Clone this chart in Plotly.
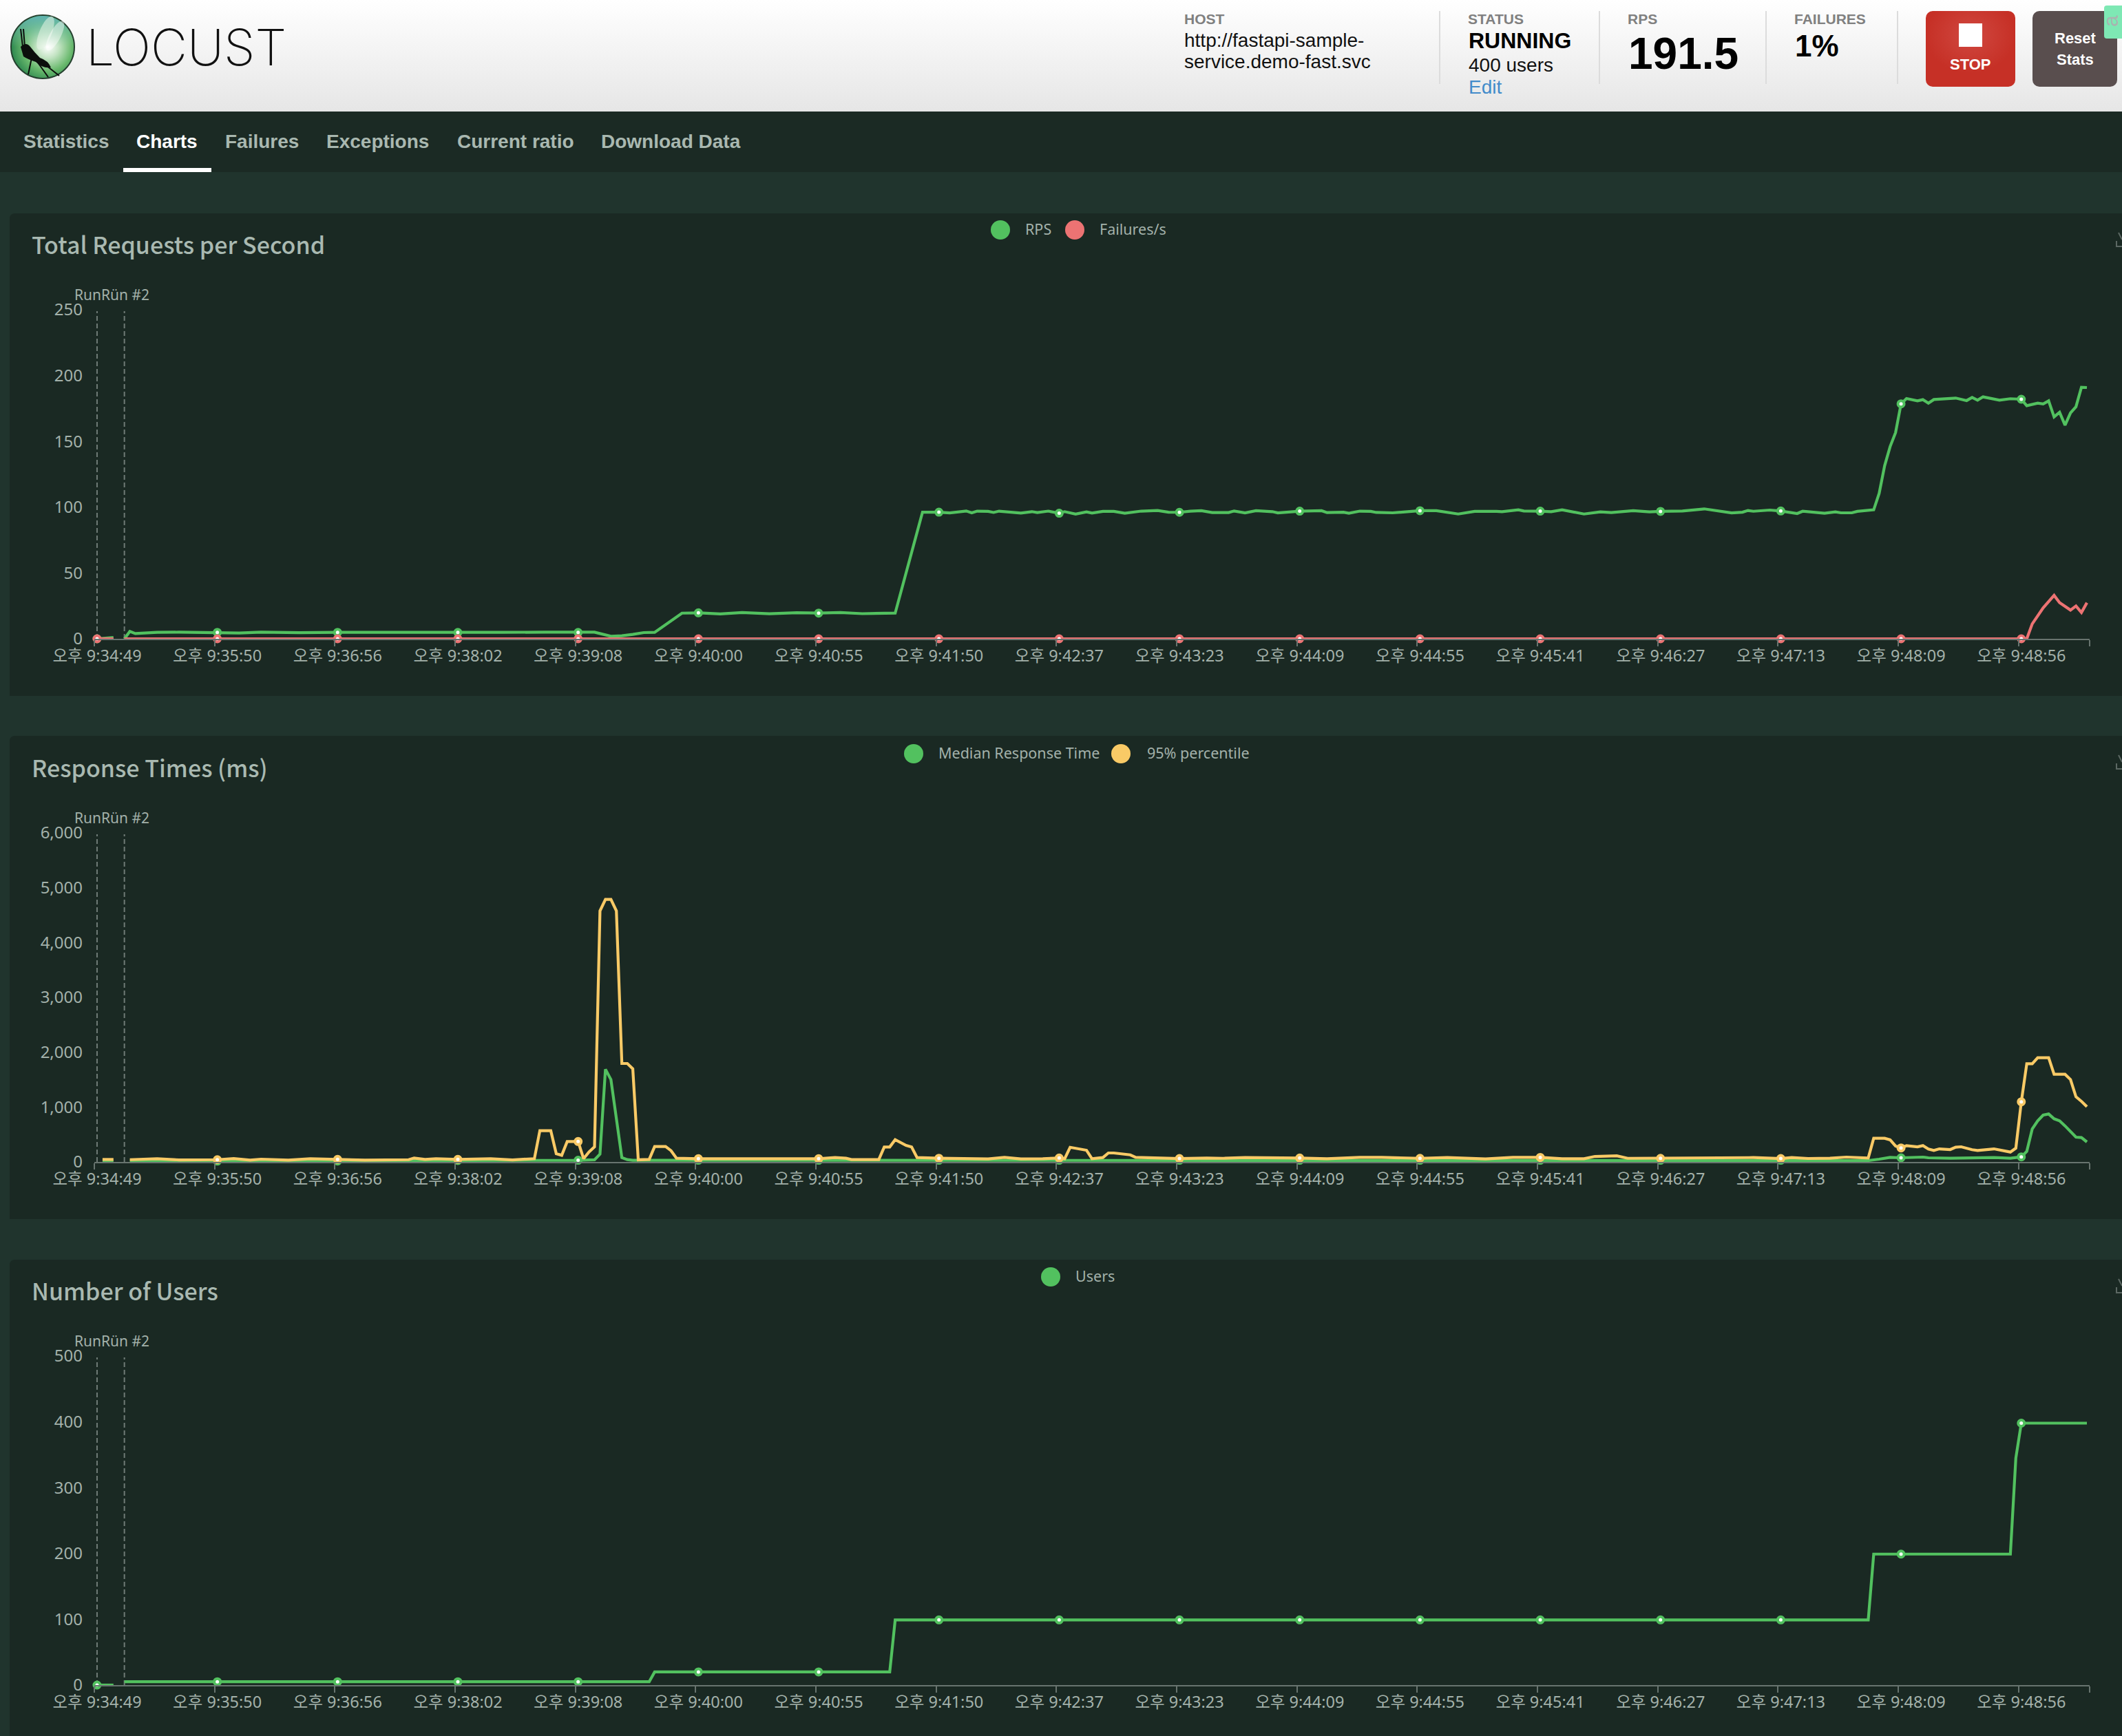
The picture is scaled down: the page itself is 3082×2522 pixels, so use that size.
import base64
import plotly.graph_objects as go

W, H = 3082, 2522

# ---- axis data ----
tick_idx = [0, 22, 44, 66, 88, 110, 132, 154, 176, 198, 220, 242, 264, 286, 308, 330, 352]
tick_labels = ["오후 9:34:49", "오후 9:35:50", "오후 9:36:56", "오후 9:38:02", "오후 9:39:08", "오후 9:40:00",
               "오후 9:40:55", "오후 9:41:50", "오후 9:42:37", "오후 9:43:23", "오후 9:44:09", "오후 9:44:55",
               "오후 9:45:41", "오후 9:46:27", "오후 9:47:13", "오후 9:48:09", "오후 9:48:56"]
n_samples = 365
run_idx = [0, 5]
run_label = "RunRün #2"

# ---- Total Requests per Second ----
rps_x = [0, 1, 2, 3, 4, 5, 6, 7, 11, 15, 19, 22, 26, 30, 37, 44, 50, 58, 66, 70, 74, 82, 88, 91, 94, 96, 98, 100, 102,
         107, 110, 114, 118, 123, 128, 132, 136, 140, 146, 151, 154, 156, 159, 160, 161, 163, 164, 165, 169, 171, 172,
         174, 176, 177, 179, 181, 182, 184, 186, 188, 191, 194, 196, 198, 200, 202, 204, 207, 208, 210, 212, 215, 216,
         218, 220, 224, 225, 228, 229, 231, 233, 234, 237, 242, 245, 249, 252, 256, 257, 260, 261, 264, 266, 268, 272,
         275, 277, 281, 284, 286, 290, 294, 297, 299, 301, 302, 303, 306, 308, 311, 312, 316, 318, 319, 321, 322, 325,
         326, 327, 328, 329, 330, 331, 333, 334, 335, 336, 338, 340, 342, 343, 344, 345, 348, 350, 352, 353, 355, 356,
         357, 358, 359, 360, 361, 362, 363, 364]
rps = [0, 0.5, 1, 1, None, 0, 5.6, 4, 4.9, 5, 4.7, 4.9, 4.4, 5, 4.6, 4.9, 4.8, 5, 4.8, 4.5, 4.9, 5, 4.8, 5, 1.9, 2.3, 3.3,
       4.7, 4.9, 19.5, 19.7, 18.9, 19.9, 19, 19.8, 19.5, 19.9, 19.1, 19.5, 96.2, 96.2, 95.7, 97.1, 95.7, 97, 96.8, 96,
       97, 95.5, 96.6, 95.9, 97, 95.4, 96.6, 94.8, 96.4, 95.5, 96.8, 96.8, 95.4, 97, 97.5, 96.2, 96.1, 97, 97.3, 95.9,
       95.9, 97.1, 95.7, 97.3, 96.6, 95.7, 96.6, 97, 97.3, 95.9, 96.2, 95.4, 97, 96.8, 96, 95.7, 97.3, 97.3, 94.8, 96.8,
       96.8, 96.6, 98, 97.1, 97, 96.6, 98, 94.8, 96.4, 95.9, 97.3, 96.4, 96.8, 97.1, 98.7, 96.9, 95.7, 96.2, 97.5, 96.9,
       97.8, 97.1, 95.2, 96.9, 95.4, 96.4, 95.7, 95.7, 96.8, 98, 110.5, 131.5, 146, 156.7, 178.5, 182.5, 180.8, 181.7,
       179, 181.8, 182.2, 182.9, 181, 183.4, 181.3, 183.8, 181.3, 182.4, 182, 177.1, 179, 178.4, 180.8, 168.6, 172.1,
       162.3, 171.6, 176.3, 191.1, 190.9]

fail_x = [0, 3, 4, 5, 22, 44, 66, 88, 110, 132, 154, 176, 198, 220, 242, 264, 286, 308, 330, 352, 353, 354, 355, 356,
          358, 359, 361, 362, 363, 364]
failures = [0, 0, None, 0, 0, 0, 0, 0, 0, 0, 0, 0, 0, 0, 0, 0, 0, 0, 0, 0, 0, 11.3, 17.4, 23.5, 33, 27.5, 21.8, 24.9, 20, 27.4]

# ---- Response Times (ms) ----
median_x = [1, 3, 4, 6, 22, 44, 56, 66, 88, 91, 92, 93, 94, 95, 96, 97, 98, 110, 132, 154, 176, 198, 220, 242, 264, 286,
            308, 324, 326, 328, 330, 334, 335, 339, 347, 350, 352, 353, 354, 355, 356, 357, 358, 359, 360, 361, 362, 363,
            364]
median = [12, 12, None, 15, 15, 16, 25, 26, 30, 38, 142, 1690, 1502, 770, 79, 42, 29, 30, 30, 31, 30, 30, 31, 30, 31, 30,
          30, 25, 50, 84, 75, 88, 75, 67, 79, 67, 92, 192, 602, 749, 854, 874, 787, 749, 657, 552, 452, 444, 364]

p95_x = [1, 3, 4, 6, 11, 15, 22, 25, 28, 30, 35, 39, 44, 49, 57, 58, 60, 62, 66, 69, 72, 76, 80, 81, 83, 84, 85, 86, 87, 88,
         89, 90, 91, 92, 93, 94, 95, 96, 97, 98, 99, 101, 102, 104, 105, 106, 110, 132, 135, 137, 138, 143, 144, 145, 146,
         147, 148, 149, 150, 154, 163, 166, 169, 173, 176, 177, 178, 181, 182, 184, 185, 186, 189, 190, 194, 198, 203, 206,
         210, 216, 220, 225, 231, 235, 239, 242, 247, 254, 259, 264, 268, 272, 274, 278, 280, 286, 297, 303, 308, 310, 313,
         317, 320, 324, 325, 327, 328, 329, 330, 331, 333, 334, 335, 336, 337, 339, 340, 341, 343, 344, 347, 350, 351, 352,
         353, 354, 355, 357, 358, 360, 361, 362, 363, 364]
p95 = [45, 45, None, 41, 58, 37, 41, 62, 33, 50, 33, 58, 46, 33, 41, 71, 46, 58, 46, 46, 58, 37, 59, 569, 569, 150, 121,
       372, 372, 372, 59, 184, 276, 4577, 4787, 4787, 4577, 1795, 1795, 1699, 38, 46, 280, 280, 205, 67, 59, 59, 80, 67,
       42, 42, 272, 272, 406, 360, 301, 272, 80, 67, 54, 83, 54, 58, 71, 58, 267, 213, 58, 79, 163, 163, 129, 83, 66, 62,
       71, 66, 79, 79, 71, 58, 83, 83, 66, 66, 79, 54, 83, 83, 58, 58, 100, 112, 66, 66, 66, 79, 62, 79, 63, 67, 88, 71,
       431, 431, 402, 289, 255, 297, 276, 297, 234, 209, 238, 226, 268, 276, 222, 209, 238, 180, 251, 1096, 1791, 1791,
       1900, 1900, 1598, 1598, 1502, 1188, 1105, 1008]

# ---- Number of Users ----
users_x = [0, 3, 4, 5, 22, 44, 66, 88, 101, 102, 110, 132, 145, 146, 154, 176, 198, 220, 242, 264, 286, 308, 324, 325,
           330, 350, 351, 352, 364]
users = [0, 0, None, 5, 5, 5, 5, 5, 5, 20, 20, 20, 20, 99, 99, 99, 99, 99, 99, 99, 99, 99, 99, 199, 199, 199,
         345, 398, 398]

# ---- page text ----
nav_items = ["Statistics", "Charts", "Failures", "Exceptions", "Current ratio", "Download Data"]
panel_titles = ["Total Requests per Second", "Response Times (ms)", "Number of Users"]

# ---- colours / fonts ----
GREEN, RED, YELLOW = "#52c15f", "#ec7373", "#f9ca66"
PAGE, PANEL, NAV = "#20342d", "#1a2923", "#1b2a24"
AXIS, TEXT, TITLE = "#68746f", "#a3b1aa", "#a9b9b1"
CHART_FONT = "Noto Sans, Noto Sans CJK KR, sans-serif"
TITLE_FONT = "Noto Sans CJK KR, Noto Sans, sans-serif"
UI_FONT = "Liberation Sans, Arial, sans-serif"

fig = go.Figure()


def px(x):
    return x / W


def py(y):
    return 1 - y / H


def note(text, x, y, size, color, family=UI_FONT, weight="normal", anchor="left", **kw):
    fig.add_annotation(text=text, x=px(x), y=py(y), xref="paper", yref="paper", xanchor=anchor, yanchor="middle",
                       showarrow=False, borderpad=0, font=dict(size=size, color=color, family=family, weight=weight), **kw)


def series(x, y, color, name, xa, ya):
    fig.add_trace(go.Scatter(
        x=x, y=y, mode="lines", name=name, xaxis=xa, yaxis=ya, cliponaxis=False, connectgaps=False,
        line=dict(color=color, width=4.2, shape="linear"), showlegend=False, hoverinfo="skip"))
    kept = [(i, v) for i, v in zip(x, y) if i in tick_idx and v is not None]
    fig.add_trace(go.Scatter(
        x=[k[0] for k in kept], y=[k[1] for k in kept], mode="markers", name=name, xaxis=xa, yaxis=ya, cliponaxis=False,
        marker=dict(symbol="circle", color="#ffffff", size=9, opacity=1, line=dict(color=color, width=4)),
        showlegend=False, hoverinfo="skip"))


series(rps_x, rps, GREEN, "RPS", "x", "y")
series(fail_x, failures, RED, "Failures/s", "x", "y")
series(median_x, median, GREEN, "Median Response Time", "x2", "y2")
series(p95_x, p95, YELLOW, "95% percentile", "x2", "y2")
series(users_x, users, GREEN, "Users", "x3", "y3")

PLOT_L, PLOT_R = 137, 3035
bottoms = [928, 1688, 2448]
PLOT_H = 478
ranges = [(250, 50, ""), (6000, 1000, ","), (500, 100, "")]
layout = {}
for i, (bottom, (ymax, dt, fmt)) in enumerate(zip(bottoms, ranges)):
    s = "" if i == 0 else str(i + 1)
    layout["xaxis" + s] = dict(
        domain=[px(PLOT_L), px(PLOT_R)], range=[-0.5, n_samples - 0.5], anchor="y" + s, automargin=False,
        tickmode="array", tickvals=[t - 0.5 for t in tick_idx] + [n_samples - 0.5], ticktext=tick_labels + [""],
        ticks="outside", ticklen=9, tickwidth=2, tickcolor=AXIS, showline=True, linecolor=AXIS, linewidth=2,
        showgrid=False, zeroline=False, ticklabelshift=4, ticklabelstandoff=-6,
        tickfont=dict(size=23.5, color=TEXT, family=CHART_FONT))
    layout["yaxis" + s] = dict(
        domain=[py(bottom), py(bottom - PLOT_H)], range=[0, ymax], anchor="x" + s, dtick=dt, tick0=0, tickformat=fmt,
        automargin=False, showline=False, showgrid=False, zeroline=False, ticks="", ticklabelstandoff=16,
        tickfont=dict(size=24, color=TEXT, family=CHART_FONT))

shapes = []
# nav bar + underline
shapes.append(dict(type="rect", xref="paper", yref="paper", x0=px(0), x1=px(W), y0=py(250), y1=py(162), fillcolor=NAV, line_width=0, layer="below"))
shapes.append(dict(type="rect", xref="paper", yref="paper", x0=px(179), x1=px(307), y0=py(250), y1=py(244), fillcolor="white", line_width=0, layer="below"))
# panels
panel_boxes = [(310, 1011), (1069, 1771), (1830, 2530)]
for top, bot in panel_boxes:
    r = 8
    path = (f"M {px(14)} {py(bot)} L {px(14)} {py(top + r)} Q {px(14)} {py(top)} {px(14 + r)} {py(top)} "
            f"L {px(W)} {py(top)} L {px(W)} {py(bot)} Z")
    shapes.append(dict(type="path", xref="paper", yref="paper", path=path, fillcolor=PANEL, line_width=0, layer="below"))
    shapes.append(dict(type="path", xref="paper", yref="paper", path=f"M {px(3074)} {py(top + 40)} L {px(3074)} {py(top + 48)} L {px(W)} {py(top + 48)}",
                       line=dict(color="#5c6863", width=2), layer="below"))
    shapes.append(dict(type="path", xref="paper", yref="paper", path=f"M {px(3077)} {py(top + 28)} L {px(W)} {py(top + 38)}",
                       line=dict(color="#5c6863", width=2), layer="below"))
# run mark lines
for i in range(3):
    s = "" if i == 0 else str(i + 1)
    for r in run_idx:
        shapes.append(dict(type="line", xref="x" + s, yref=("y" + s) + " domain", x0=r, x1=r, y0=0, y1=0.996,
                           line=dict(color="#6f7b76", width=2, dash="7px,4px"), layer="below"))
# legend dots
for cx, cy, color in [(1453, 334, GREEN), (1561, 334, RED), (1327, 1095, GREEN), (1628, 1095, YELLOW), (1526, 1855, GREEN)]:
    shapes.append(dict(type="circle", xref="paper", yref="paper", x0=px(cx - 14), x1=px(cx + 14), y0=py(cy + 14), y1=py(cy - 14),
                       fillcolor=color, line_width=0))

# header artwork (gradient, logo ball, buttons) as one vector picture
svg = f'''<svg xmlns="http://www.w3.org/2000/svg" width="{W}" height="162" viewBox="0 0 {W} 162">
<defs>
<linearGradient id="h" x1="0" y1="0" x2="0" y2="1"><stop offset="0" stop-color="#ffffff"/><stop offset="1" stop-color="#e6e6e6"/></linearGradient>
<radialGradient id="b" cx="0.58" cy="0.5" r="0.62"><stop offset="0" stop-color="#ffffff"/><stop offset="0.28" stop-color="#c4e4c4"/><stop offset="0.62" stop-color="#68b86c"/><stop offset="1" stop-color="#1f7c48"/></radialGradient>
<linearGradient id="t" x1="0" y1="0" x2="0" y2="1"><stop offset="0" stop-color="#5fb3b0"/><stop offset="0.5" stop-color="#8fcfb0" stop-opacity="0"/></linearGradient>
<radialGradient id="s" cx="0.5" cy="0.32" r="0.5"><stop offset="0" stop-color="#d04840"/><stop offset="1" stop-color="#c63026"/></radialGradient>
</defs>
<rect width="{W}" height="162" fill="url(#h)"/>
<circle cx="62" cy="68" r="46" fill="url(#b)" stroke="#25402f" stroke-width="2"/>
<circle cx="62" cy="68" r="45" fill="url(#t)"/>
<ellipse cx="66" cy="48" rx="9" ry="26" fill="#e6f4e6" opacity="0.55" transform="rotate(22 66 48)"/>
<ellipse cx="80" cy="52" rx="8" ry="24" fill="#ffffff" opacity="0.45" transform="rotate(28 80 52)"/>
<path d="M30 68 Q38 60 44 68 Q50 76 58 84 Q70 88 74 98 Q62 100 52 90 Q40 86 34 82 Z" fill="#0c0f0c"/>
<path d="M34 42 L36 68 M30 42 L33 68 M46 84 L41 108 M50 84 L70 112 M58 88 L86 110" stroke="#0c0f0c" stroke-width="2" fill="none"/>
<g stroke="#dcdcdc" stroke-width="2"><path d="M2091 16V122M2323 16V122M2565 16V122M2756 16V122"/></g>
<rect x="2797" y="16" width="130" height="110" rx="10" fill="url(#s)"/>
<rect x="2845" y="34" width="34" height="34" fill="#ffffff"/>
<rect x="2952" y="16" width="123" height="110" rx="10" fill="#594e4e"/>
<rect x="3056" y="8" width="30" height="48" rx="4" fill="#7ee8b4"/>
</svg>'''
layout["images"] = [dict(source="data:image/svg+xml;base64," + base64.b64encode(svg.encode()).decode(),
                         xref="paper", yref="paper", x=0, y=1, sizex=1, sizey=162 / H, sizing="stretch",
                         xanchor="left", yanchor="top", layer="below")]

fig.update_layout(width=W, height=H, margin=dict(l=0, r=0, t=0, b=0, pad=0), autosize=False, paper_bgcolor=PAGE,
                  plot_bgcolor="rgba(0,0,0,0)", showlegend=False, shapes=shapes, **layout)

# header text
note("LOCUST", 124, 68, 73, "#111111", family="Inter, Lato, sans-serif", weight=200)
for text, x in [("HOST", 1719), ("STATUS", 2131), ("RPS", 2363), ("FAILURES", 2605)]:
    note(text, x, 28, 21, "#808080", weight="bold")
note("http://fastapi-sample-", 1719, 58, 28, "#111111")
note("service.demo-fast.svc", 1719, 90, 28, "#111111")
note("RUNNING", 2132, 59, 32, "#000000", weight="bold")
note("400 users", 2132, 95, 28, "#111111")
note("Edit", 2132, 126, 28, "#428bca")
note("191.5", 2364, 78, 64, "#000000", weight="bold")
note("1%", 2606, 66, 44, "#000000", weight="bold")
note("STOP", 2862, 94, 22, "#ffffff", weight="bold", anchor="center")
note("Reset", 3014, 55, 22, "#ffffff", weight="bold", anchor="center")
note("Stats", 3014, 87, 22, "#ffffff", weight="bold", anchor="center")
note("a", 3066, 31, 30, "#a9b4b0", anchor="center", textangle=-90)

# nav text
for item, x in zip(nav_items, [33, 197, 326, 473, 663, 872]):
    note(item, x, 205, 28, "#ffffff" if item == "Charts" else "#a9b8b0", weight="bold")

# panel titles
for title, y in zip(panel_titles, [355, 1114, 1874]):
    note(title, 45, y, 34, TITLE, family=TITLE_FONT, weight=500)

# legends
for text, x, y in [("RPS", 1488, 333), ("Failures/s", 1596, 333), ("Median Response Time", 1362, 1093),
                   ("95% percentile", 1665, 1093), ("Users", 1561, 1853)]:
    note(text, x, y, 21.5, TEXT, family=CHART_FONT)

# run label, as it reads in the picture
for y in [428, 1188, 1948]:
    note(run_label, 107, y, 21, TEXT, family=CHART_FONT)

for a, b in [(rps_x, rps), (fail_x, failures), (median_x, median), (p95_x, p95), (users_x, users)]:
    assert len(a) == len(b), (len(a), len(b))

fig.write_html("out.html", config=dict(displayModeBar=False, staticPlot=True),
               post_script="document.body.style.margin='0';document.body.style.background='#20342d';")
